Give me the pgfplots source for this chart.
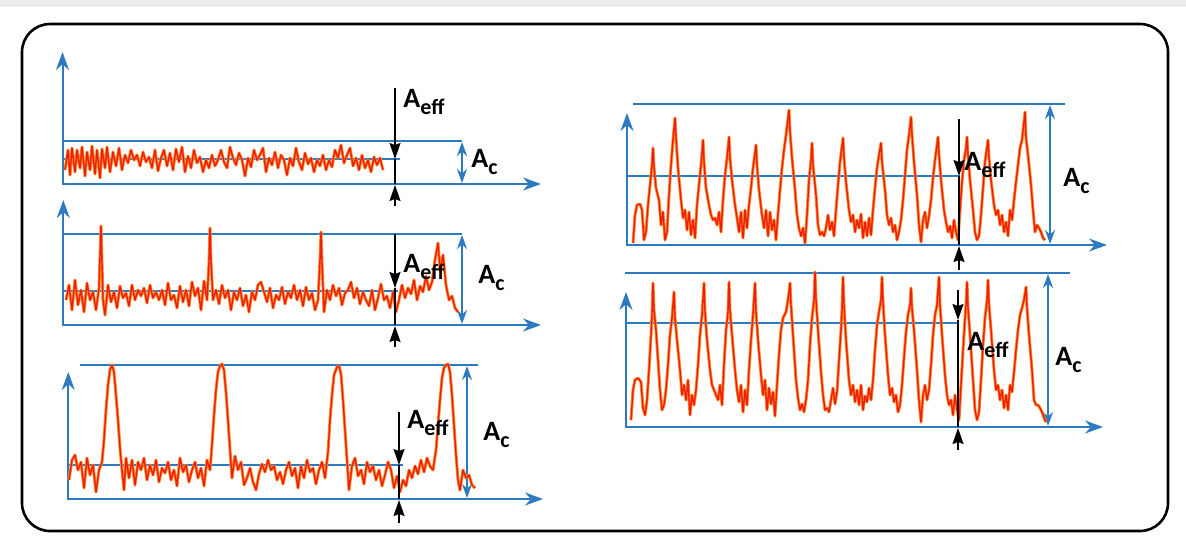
\documentclass[border=0pt]{standalone}
\usepackage{pgfplots}
\pgfplotsset{compat=1.18}
\usepackage{pgfplotstable}
\usetikzlibrary{arrows.meta}
\usepackage{fontspec}
\setmainfont{Carlito}
\definecolor{ablue}{RGB}{46,122,192}
\definecolor{sigor}{RGB}{255,140,40}
\definecolor{sigred}{RGB}{240,30,15}
\newcommand\lab[1]{{\fontsize{14}{16}\selectfont\bfseries #1}}
\newcommand\sub[1]{\raisebox{-0.25em}{\fontsize{11}{12}\selectfont #1}}
\tikzset{
  axarrow/.style={ablue, line width=1pt, -{Stealth[length=9pt,width=6.5pt]}},
  bline/.style={ablue, line width=0.9pt},
  dblarrow/.style={ablue, line width=1pt, {Stealth[length=7pt,width=5pt]}-{Stealth[length=7pt,width=5pt]}},
  barrow/.style={black, line width=0.8pt, -{Stealth[length=8pt,width=5.5pt,inset=1pt]}},
  sigO/.style={sigor, line width=1.5pt, line join=round},
  sigR/.style={sigred, line width=0.7pt, line join=round},
}

\pgfplotstableread[row sep=\\]{
x y\\
65 170\\ 68 150\\ 70 175\\ 72 148\\ 75 172\\ 77 150\\ 80 168\\ 82 147\\ 85 176\\ 87 152\\ 90 170\\ 92 146\\ 95 174\\ 97 150\\ 100 178\\ 102 149\\ 105 168\\ 107 147\\ 110 172\\ 113 152\\ 116 166\\ 119 148\\ 122 170\\ 125 155\\ 128 163\\ 131 150\\ 134 160\\ 137 155\\ 140 166\\ 143 152\\ 146 162\\ 149 157\\ 152 168\\ 155 150\\ 158 171\\ 161 158\\ 164 150\\ 167 166\\ 170 153\\ 173 170\\ 176 149\\ 179 162\\ 182 147\\ 185 172\\ 188 156\\ 191 168\\ 194 150\\ 197 163\\ 200 157\\ 203 172\\ 206 160\\ 209 168\\ 212 155\\ 215 166\\ 218 160\\ 221 150\\ 224 162\\ 227 168\\ 230 147\\ 233 158\\ 236 165\\ 239 153\\ 242 160\\ 245 176\\ 248 158\\ 251 167\\ 254 150\\ 257 160\\ 260 155\\ 263 148\\ 266 172\\ 269 158\\ 272 165\\ 275 152\\ 278 168\\ 281 155\\ 284 160\\ 287 175\\ 290 158\\ 293 166\\ 296 148\\ 299 162\\ 302 170\\ 305 153\\ 308 164\\ 311 158\\ 314 172\\ 317 160\\ 320 166\\ 323 155\\ 326 170\\ 329 160\\ 332 167\\ 335 150\\ 338 158\\ 341 145\\ 344 163\\ 347 155\\ 350 148\\ 353 166\\ 356 158\\ 359 170\\ 362 155\\ 365 168\\ 368 160\\ 371 172\\ 374 157\\ 377 165\\ 380 158\\ 383 170\\
}\sigA

\pgfplotstableread[row sep=\\]{
x y\\
66 300\\ 69 285\\ 72 310\\ 75 280\\ 78 305\\ 81 290\\ 84 312\\ 87 283\\ 90 300\\ 93 292\\ 96 310\\ 99 288\\ 101 226\\ 103 300\\ 105 315\\ 108 285\\ 111 302\\ 114 292\\ 117 308\\ 120 286\\ 123 298\\ 126 293\\ 129 306\\ 132 285\\ 135 300\\ 138 290\\ 141 296\\ 144 288\\ 147 303\\ 150 285\\ 153 298\\ 156 292\\ 159 300\\ 162 290\\ 165 305\\ 168 283\\ 171 300\\ 174 295\\ 177 308\\ 180 286\\ 183 302\\ 186 290\\ 189 306\\ 192 282\\ 195 296\\ 198 288\\ 201 310\\ 204 281\\ 207 300\\ 209 262\\ 210 228\\ 211 262\\ 213 300\\ 216 290\\ 219 304\\ 222 285\\ 225 298\\ 228 290\\ 231 310\\ 234 292\\ 237 300\\ 240 288\\ 243 306\\ 246 295\\ 249 312\\ 252 292\\ 255 300\\ 258 285\\ 261 282\\ 264 292\\ 267 302\\ 270 288\\ 273 308\\ 276 295\\ 279 300\\ 282 287\\ 285 304\\ 288 292\\ 291 298\\ 294 285\\ 297 300\\ 300 290\\ 303 306\\ 306 287\\ 309 300\\ 312 293\\ 315 310\\ 318 300\\ 320 260\\ 321 232\\ 322 262\\ 324 312\\ 327 290\\ 330 300\\ 333 285\\ 336 296\\ 339 288\\ 342 305\\ 345 293\\ 348 290\\ 351 282\\ 354 298\\ 357 288\\ 360 304\\ 363 292\\ 366 300\\ 369 306\\ 372 290\\ 375 310\\ 378 298\\ 381 284\\ 384 300\\ 387 296\\ 390 308\\ 393 292\\ 396 312\\ 399 300\\ 402 285\\ 405 298\\ 408 288\\ 411 294\\ 414 280\\ 417 300\\ 420 286\\ 423 292\\ 426 276\\ 429 290\\ 432 282\\ 435 260\\ 438 243\\ 440 270\\ 443 255\\ 446 285\\ 449 300\\ 452 296\\ 455 308\\ 458 312\\
}\sigB

\pgfplotstableread[row sep=\\]{
x y\\
69 480\\ 72 460\\ 75 455\\ 78 470\\ 81 462\\ 84 488\\ 87 458\\ 90 475\\ 93 465\\ 96 492\\ 99 470\\ 102 462\\ 104 440\\ 106 410\\ 108 385\\ 110 370\\ 112 365\\ 114 372\\ 116 395\\ 118 420\\ 120 448\\ 122 470\\ 124 490\\ 126 458\\ 129 478\\ 132 460\\ 135 485\\ 138 462\\ 141 470\\ 144 458\\ 147 480\\ 150 465\\ 153 475\\ 156 460\\ 159 482\\ 162 468\\ 165 473\\ 168 462\\ 171 480\\ 174 470\\ 177 486\\ 180 458\\ 183 472\\ 186 465\\ 189 482\\ 192 470\\ 195 462\\ 198 478\\ 201 468\\ 204 486\\ 207 460\\ 210 470\\ 212 445\\ 214 415\\ 216 390\\ 218 372\\ 220 366\\ 222 364\\ 224 370\\ 226 392\\ 228 420\\ 230 450\\ 232 478\\ 235 456\\ 238 470\\ 241 462\\ 244 485\\ 247 478\\ 250 468\\ 253 482\\ 256 490\\ 259 474\\ 262 464\\ 265 472\\ 268 460\\ 271 470\\ 274 466\\ 277 480\\ 280 472\\ 283 484\\ 286 470\\ 289 462\\ 292 476\\ 295 468\\ 298 488\\ 301 466\\ 304 478\\ 307 460\\ 310 472\\ 313 468\\ 316 484\\ 319 470\\ 322 462\\ 325 478\\ 328 452\\ 330 420\\ 332 395\\ 334 375\\ 337 367\\ 339 366\\ 341 374\\ 343 400\\ 345 430\\ 347 460\\ 349 490\\ 352 466\\ 355 458\\ 358 476\\ 361 470\\ 364 484\\ 367 462\\ 370 472\\ 373 466\\ 376 480\\ 379 470\\ 382 486\\ 385 475\\ 388 462\\ 391 470\\ 394 488\\ 397 476\\ 400 492\\ 403 480\\ 406 486\\ 409 470\\ 412 478\\ 415 466\\ 418 474\\ 421 460\\ 424 472\\ 427 458\\ 430 466\\ 433 470\\ 436 450\\ 438 425\\ 440 400\\ 442 378\\ 444 368\\ 446 365\\ 448 364\\ 450 372\\ 452 395\\ 454 425\\ 456 455\\ 458 480\\ 460 490\\ 463 470\\ 466 478\\ 469 475\\ 472 485\\ 475 488\\
}\sigC

\pgfplotstableread[row sep=\\]{
x y\\
633 243\\ 635 215\\ 637 205\\ 640 204\\ 642 210\\ 644 240\\ 646 232\\ 648 205\\ 650 185\\ 652 165\\ 653 148\\ 654 168\\ 656 188\\ 659 200\\ 661 225\\ 663 212\\ 665 240\\ 667 232\\ 669 195\\ 671 165\\ 673 140\\ 675 118\\ 676 138\\ 678 168\\ 681 200\\ 683 218\\ 685 210\\ 687 230\\ 689 212\\ 691 235\\ 693 220\\ 695 238\\ 697 205\\ 699 185\\ 701 165\\ 703 140\\ 704 162\\ 706 188\\ 709 205\\ 711 215\\ 713 220\\ 715 218\\ 717 225\\ 719 212\\ 721 232\\ 723 200\\ 725 175\\ 727 158\\ 729 137\\ 730 158\\ 732 180\\ 735 205\\ 737 218\\ 739 232\\ 741 212\\ 743 238\\ 745 210\\ 747 228\\ 749 205\\ 751 188\\ 753 168\\ 756 145\\ 757 165\\ 759 190\\ 762 215\\ 764 228\\ 766 210\\ 768 236\\ 770 212\\ 772 230\\ 774 220\\ 776 240\\ 778 214\\ 780 190\\ 782 168\\ 784 150\\ 786 135\\ 789 110\\ 790 132\\ 792 158\\ 795 190\\ 797 215\\ 799 228\\ 801 236\\ 803 228\\ 805 243\\ 807 215\\ 809 180\\ 811 160\\ 812 143\\ 813 165\\ 816 195\\ 818 225\\ 820 235\\ 822 232\\ 824 236\\ 826 228\\ 828 215\\ 830 230\\ 832 222\\ 834 236\\ 836 210\\ 838 185\\ 840 162\\ 843 138\\ 844 158\\ 846 182\\ 849 210\\ 851 222\\ 853 215\\ 855 232\\ 857 220\\ 859 228\\ 861 214\\ 863 238\\ 865 222\\ 867 236\\ 869 218\\ 871 235\\ 873 210\\ 875 188\\ 877 168\\ 879 155\\ 881 143\\ 882 162\\ 885 190\\ 887 215\\ 889 225\\ 891 218\\ 893 232\\ 895 225\\ 897 240\\ 899 232\\ 901 220\\ 903 200\\ 905 175\\ 907 150\\ 909 135\\ 911 117\\ 912 135\\ 914 162\\ 917 195\\ 919 225\\ 921 242\\ 923 220\\ 925 212\\ 927 228\\ 929 216\\ 931 200\\ 933 178\\ 935 160\\ 938 137\\ 939 155\\ 941 180\\ 944 210\\ 946 222\\ 948 232\\ 950 226\\ 952 238\\ 954 220\\ 956 232\\ 958 240\\ 960 210\\ 962 182\\ 964 160\\ 966 148\\ 967 137\\ 968 155\\ 970 180\\ 973 210\\ 975 232\\ 977 240\\ 979 236\\ 981 215\\ 983 188\\ 985 162\\ 988 140\\ 989 158\\ 991 180\\ 994 205\\ 996 215\\ 998 210\\ 1000 225\\ 1002 215\\ 1004 232\\ 1006 222\\ 1008 236\\ 1010 210\\ 1012 220\\ 1014 200\\ 1016 182\\ 1018 165\\ 1020 148\\ 1022 140\\ 1025 112\\ 1026 138\\ 1028 155\\ 1031 185\\ 1033 210\\ 1035 232\\ 1037 225\\ 1039 228\\ 1041 232\\ 1043 238\\ 1045 240\\
}\sigD

\pgfplotstableread[row sep=\\]{
x y\\
631 420\\ 633 390\\ 635 380\\ 638 378\\ 641 382\\ 643 408\\ 645 415\\ 647 400\\ 649 370\\ 651 335\\ 652 315\\ 653 283\\ 654 310\\ 656 330\\ 658 360\\ 660 390\\ 662 410\\ 664 405\\ 666 390\\ 668 365\\ 670 335\\ 672 318\\ 674 292\\ 675 318\\ 677 340\\ 680 370\\ 682 395\\ 684 385\\ 686 400\\ 688 380\\ 690 415\\ 692 395\\ 694 405\\ 696 390\\ 698 365\\ 700 335\\ 702 315\\ 704 283\\ 705 312\\ 707 340\\ 710 370\\ 712 385\\ 714 390\\ 716 395\\ 718 400\\ 720 385\\ 722 405\\ 724 365\\ 726 330\\ 728 312\\ 729 282\\ 730 310\\ 732 335\\ 735 370\\ 737 390\\ 739 402\\ 741 385\\ 743 412\\ 745 390\\ 747 405\\ 749 370\\ 751 340\\ 753 315\\ 755 283\\ 756 312\\ 758 340\\ 761 375\\ 763 395\\ 765 380\\ 767 410\\ 769 388\\ 771 404\\ 773 392\\ 775 416\\ 777 385\\ 779 355\\ 781 330\\ 783 318\\ 786 312\\ 788 300\\ 790 283\\ 791 305\\ 793 335\\ 796 380\\ 798 398\\ 800 410\\ 802 404\\ 804 412\\ 806 400\\ 808 380\\ 810 345\\ 812 318\\ 814 300\\ 815 272\\ 816 300\\ 818 330\\ 821 372\\ 823 395\\ 825 410\\ 827 408\\ 829 412\\ 831 400\\ 833 388\\ 835 404\\ 837 392\\ 839 360\\ 841 330\\ 842 310\\ 843 277\\ 844 305\\ 846 340\\ 849 380\\ 851 395\\ 853 385\\ 855 402\\ 857 390\\ 859 405\\ 861 385\\ 863 410\\ 865 396\\ 867 402\\ 869 388\\ 871 400\\ 873 380\\ 875 350\\ 877 325\\ 879 312\\ 881 300\\ 882 277\\ 883 302\\ 885 335\\ 888 375\\ 890 395\\ 892 388\\ 894 402\\ 896 395\\ 898 412\\ 900 405\\ 902 385\\ 904 358\\ 906 332\\ 908 315\\ 910 305\\ 911 288\\ 912 308\\ 914 330\\ 917 370\\ 919 400\\ 921 422\\ 923 395\\ 925 385\\ 927 400\\ 929 390\\ 931 365\\ 933 335\\ 935 315\\ 937 305\\ 939 277\\ 940 305\\ 942 335\\ 945 375\\ 947 395\\ 949 405\\ 951 400\\ 953 415\\ 955 395\\ 957 410\\ 959 420\\ 961 385\\ 963 350\\ 965 318\\ 966 305\\ 967 282\\ 968 308\\ 970 335\\ 973 380\\ 975 410\\ 977 420\\ 979 412\\ 981 380\\ 983 345\\ 985 318\\ 987 300\\ 988 280\\ 989 305\\ 991 330\\ 994 370\\ 996 390\\ 998 385\\ 1000 400\\ 1002 390\\ 1004 408\\ 1006 395\\ 1008 410\\ 1010 385\\ 1012 392\\ 1014 372\\ 1016 350\\ 1018 330\\ 1020 315\\ 1022 308\\ 1024 300\\ 1026 287\\ 1027 308\\ 1029 335\\ 1032 370\\ 1034 400\\ 1036 405\\ 1038 405\\ 1040 408\\ 1042 412\\ 1044 418\\ 1046 422\\
}\sigE

\begin{document}
\begin{tikzpicture}
\begin{axis}[scale only axis, width=593pt, height=271pt,
  xmin=0, xmax=1186, ymin=0, ymax=542, y dir=reverse,
  hide axis, clip=false]
% background and frame
\fill[white] (0,0) rectangle (1186,542);
\fill[black!7] (0,0) rectangle (1186,7);
\draw[black, line width=1.3pt, rounded corners=14pt] (22,24) rectangle (1168,531);

% ---------- panel 1 ----------
\draw[bline] (62.5,141) -- (462,141);
\draw[bline] (62.5,159) -- (400,159);
\draw[axarrow] (62.5,185) -- (62.5,52);
\draw[axarrow] (62.5,184) -- (541,184);
\draw[dblarrow] (462,142) -- (462,183);
\addplot[sigO, no markers] table {\sigA};
\addplot[sigR, no markers] table {\sigA};
\draw[barrow] (395,88) -- (395,159);
\draw[black, line width=0.8pt] (395,159) -- (395,184);
\draw[barrow] (395,206) -- (395,185);
\node[anchor=base west, inner sep=0] at (403,107) {\lab{A\sub{eff}}};
\node[anchor=base west, inner sep=0] at (471,167) {\lab{A\sub{c}}};

% ---------- panel 2 ----------
\draw[bline] (63.3,234) -- (462,234);
\draw[bline] (63.3,291) -- (398,291);
\draw[axarrow] (63.3,326) -- (63.3,200);
\draw[axarrow] (63.3,325) -- (541,325);
\draw[dblarrow] (462,235) -- (462,324);
\addplot[sigO, no markers] table {\sigB};
\addplot[sigR, no markers] table {\sigB};
\draw[barrow] (395,234) -- (395,288);
\draw[black, line width=0.8pt] (395,288) -- (395,325);
\draw[barrow] (395,347) -- (395,326);
\node[anchor=base west, inner sep=0] at (403,272) {\lab{A\sub{eff}}};
\node[anchor=base west, inner sep=0] at (478,283) {\lab{A\sub{c}}};

% ---------- panel 3 ----------
\draw[bline] (80,365) -- (478,365);
\draw[bline] (68.3,465) -- (403,465);
\draw[axarrow] (68.3,500) -- (68.3,372);
\draw[axarrow] (68.3,499) -- (543,499);
\draw[dblarrow] (467,366) -- (467,498);
\addplot[sigO, no markers] table {\sigC};
\addplot[sigR, no markers] table {\sigC};
\draw[barrow] (399,412) -- (399,465);
\draw[black, line width=0.8pt] (399,465) -- (399,499);
\draw[barrow] (399,523) -- (399,500);
\node[anchor=base west, inner sep=0] at (407,428) {\lab{A\sub{eff}}};
\node[anchor=base west, inner sep=0] at (483,440) {\lab{A\sub{c}}};

% ---------- panel 4 ----------
\draw[bline] (633,104) -- (1065,104);
\draw[bline] (627,176) -- (960,176);
\draw[axarrow] (627,246) -- (627,113);
\draw[axarrow] (627,245) -- (1107,245);
\draw[dblarrow] (1050,105) -- (1050,244);
\addplot[sigO, no markers] table {\sigD};
\addplot[sigR, no markers] table {\sigD};
\draw[barrow] (959,119) -- (959,176);
\draw[black, line width=0.8pt] (959,176) -- (959,245);
\draw[barrow] (959,270) -- (959,246);
\node[anchor=base west, inner sep=0] at (964,170) {\lab{A\sub{eff}}};
\node[anchor=base west, inner sep=0] at (1063,186) {\lab{A\sub{c}}};

% ---------- panel 5 ----------
\draw[bline] (625,273) -- (1070,273);
\draw[bline] (626,323) -- (958,323);
\draw[axarrow] (626,428) -- (626,292);
\draw[axarrow] (626,427) -- (1103,427);
\draw[dblarrow] (1048,274) -- (1048,426);
\addplot[sigO, no markers] table {\sigE};
\addplot[sigR, no markers] table {\sigE};
\draw[barrow] (958,290) -- (958,320);
\draw[black, line width=0.8pt] (958,320) -- (958,427);
\draw[barrow] (958,450) -- (958,428);
\node[anchor=base west, inner sep=0] at (967,350) {\lab{A\sub{eff}}};
\node[anchor=base west, inner sep=0] at (1055,365) {\lab{A\sub{c}}};
\end{axis}
\end{tikzpicture}
\end{document}
